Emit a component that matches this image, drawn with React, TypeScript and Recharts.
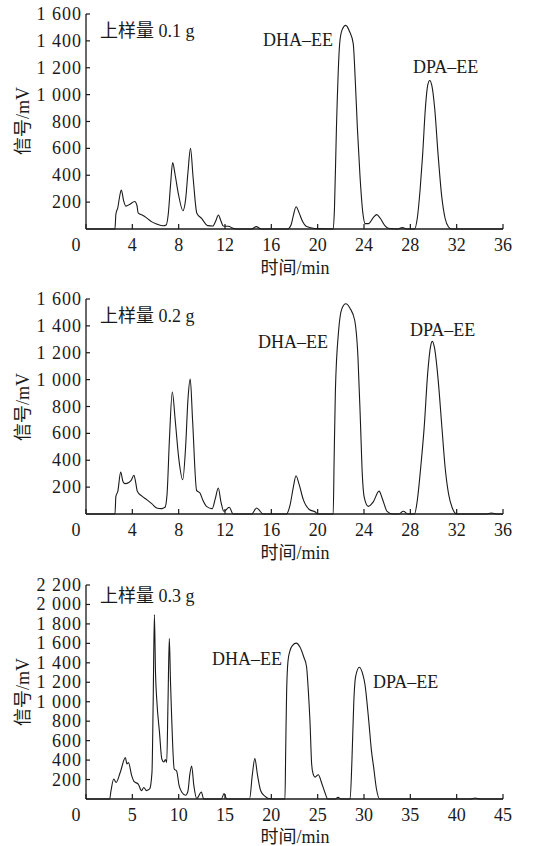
import { LineChart, Line, XAxis, YAxis } from "recharts";

// retention time (min) / detector signal (mV)
const time01 = [0, 2.5, 2.58, 2.75, 2.9, 3.05, 3.25, 3.45, 3.8, 4.2, 4.4, 4.5, 4.85, 5.2, 5.65, 6.1, 6.65, 6.92, 7.1, 7.3, 7.48, 7.7, 8.0, 8.37, 8.6, 8.8, 9.02, 9.25, 9.57, 9.98, 10.5, 10.95, 11.2, 11.43, 11.65, 11.85, 12.3, 12.7, 13.0, 14.3, 14.7, 15.1, 17.4, 17.7, 17.9, 18.14, 18.4, 18.7, 19.0, 19.5, 20.0, 21.34, 21.45, 21.62, 21.9, 22.1, 22.43, 22.75, 23.07, 23.25, 23.43, 23.65, 23.9, 24.1, 24.4, 24.8, 25.1, 25.4, 25.8, 26.1, 26.9, 27.3, 27.7, 28.36, 28.6, 28.85, 29.06, 29.3, 29.5, 29.67, 29.85, 30.1, 30.4, 30.7, 31.0, 31.3, 31.57, 36];
const signal01 = [0, 0, 110, 160, 240, 290, 210, 170, 185, 205, 175, 120, 104, 85, 55, 38, 24, 30, 110, 330, 494, 400, 250, 136, 220, 420, 600, 380, 117, 79, 25, 22, 60, 104, 60, 22, 20, 5, 0, 0, 18, 0, 0, 30, 100, 166, 120, 55, 20, 8, 3, 0, 150, 750, 1380, 1480, 1515, 1470, 1380, 1100, 750, 400, 120, 40, 40, 85, 107, 80, 25, 5, 0, 10, 0, 0, 80, 300, 550, 900, 1070, 1105, 1070, 900, 550, 250, 80, 15, 0, 0];

const time02 = [0, 2.5, 2.58, 2.75, 2.99, 3.2, 3.37, 3.7, 3.9, 4.14, 4.3, 4.43, 4.8, 5.24, 5.7, 6.1, 6.5, 6.82, 7.0, 7.2, 7.45, 7.7, 8.0, 8.35, 8.6, 8.8, 9.0, 9.2, 9.55, 9.84, 10.1, 10.4, 10.9, 11.15, 11.42, 11.65, 11.9, 12.37, 12.7, 14.3, 14.73, 15.3, 17.3, 17.6, 17.9, 18.13, 18.4, 18.76, 19.3, 19.8, 20.0, 21.34, 21.42, 21.53, 21.81, 22.1, 22.43, 22.8, 23.2, 23.48, 23.7, 23.85, 24.03, 24.37, 24.8, 25.3, 25.6, 25.99, 26.5, 27.0, 27.4, 27.8, 28.36, 28.6, 28.9, 29.2, 29.5, 29.75, 29.9, 30.1, 30.4, 30.73, 31.0, 31.3, 31.6, 32.0, 34.5, 35.0, 35.5, 36];
const signal02 = [0, 0, 131, 170, 312, 240, 226, 235, 250, 288, 230, 169, 135, 107, 75, 45, 40, 50, 150, 550, 908, 700, 420, 255, 500, 850, 1004, 700, 176, 156, 100, 57, 40, 110, 193, 90, 20, 50, 0, 0, 45, 0, 0, 60, 200, 285, 220, 107, 32, 15, 0, 0, 400, 916, 1365, 1530, 1565, 1530, 1440, 1165, 667, 300, 120, 57, 90, 170, 110, 20, 0, 0, 20, 0, 0, 100, 350, 650, 1050, 1250, 1285, 1230, 1000, 640, 350, 150, 50, 0, 0, 8, 0, 0];

const time03 = [0, 2.55, 2.7, 2.99, 3.25, 3.7, 4.25, 4.42, 4.58, 4.93, 5.2, 5.64, 5.99, 6.24, 6.52, 6.87, 7.12, 7.25, 7.38, 7.5, 7.65, 7.93, 8.18, 8.4, 8.57, 8.71, 8.85, 8.99, 9.12, 9.24, 9.52, 9.77, 10.05, 10.34, 10.76, 11.0, 11.2, 11.4, 11.64, 11.95, 12.45, 12.7, 14.6, 14.9, 15.2, 17.65, 17.95, 18.22, 18.5, 18.85, 19.3, 19.7, 20.2, 21.47, 21.55, 21.65, 21.8, 22.0, 22.3, 22.68, 23.1, 23.5, 23.8, 24.0, 24.17, 24.35, 24.5, 24.71, 25.07, 25.43, 25.8, 26.08, 26.9, 27.2, 27.5, 28.5, 28.7, 28.9, 29.1, 29.5, 29.9, 30.1, 30.5, 30.8, 31.05, 31.35, 31.7, 41.5, 42.0, 42.5, 45];
const signal03 = [0, 0, 86, 205, 170, 275, 425, 360, 375, 240, 178, 154, 86, 118, 86, 103, 274, 1000, 1895, 1300, 1000, 685, 411, 380, 405, 377, 1000, 1652, 1200, 850, 308, 290, 137, 69, 38, 80, 250, 340, 137, 5, 72, 0, 0, 55, 0, 0, 250, 415, 250, 85, 30, 5, 0, 0, 500, 1100, 1420, 1520, 1580, 1602, 1560, 1460, 1360, 1100, 800, 360, 260, 225, 250, 165, 62, 0, 0, 17, 0, 0, 400, 1000, 1260, 1354, 1270, 1180, 816, 500, 320, 100, 0, 0, 10, 0, 0];

const xTicks36 = [0, 4, 8, 12, 16, 20, 24, 28, 32, 36];
const xTicks45 = [0, 5, 10, 15, 20, 25, 30, 35, 40, 45];
const yTicks1600 = [200, 400, 600, 800, 1000, 1200, 1400, 1600];
const yTicks2200 = [200, 400, 600, 800, 1000, 1200, 1400, 1600, 1800, 2000, 2200];

const sampleLabels = ["上样量 0.1 g", "上样量 0.2 g", "上样量 0.3 g"];
const peakNames = ["DHA–EE", "DPA–EE"];

const FONT = "'Liberation Serif', 'Noto Sans CJK SC', serif";
const INK = "#1a1a1a";

const fmt = (v: number) =>
  v >= 1000 ? `${Math.floor(v / 1000)} ${String(v % 1000).padStart(3, "0")}` : String(v);

const XTick = (props: any) => {
  const { x, y, payload } = props;
  const v = payload.value;
  return (
    <g>
      <line x1={x} x2={x} y1={y} y2={y - 5} stroke={INK} strokeWidth={1.2} />
      <text
        x={v === 0 ? x - 10 : x}
        y={y + 22}
        textAnchor="middle"
        fontFamily={FONT}
        fontSize={18}
        fill={INK}
      >
        {v}
      </text>
    </g>
  );
};

const YTick = (props: any) => {
  const { x, y, payload } = props;
  return (
    <g>
      <line x1={x} x2={x + 4} y1={y} y2={y} stroke={INK} strokeWidth={1.2} />
      <text
        x={x - 4}
        y={y + 6}
        textAnchor="end"
        fontFamily={FONT}
        fontSize={18}
        letterSpacing={1}
        fill={INK}
      >
        {fmt(payload.value)}
      </text>
    </g>
  );
};

function Chromatogram({ times, signals, top, height, plotTop, xAxisH, xMax, xTicks, yMax, yTicks }: any) {
  const data = times.map((t: number, i: number) => ({ t, v: signals[i] }));
  return (
    <div style={{ position: "absolute", left: 0, top }}>
      <LineChart width={540} height={height} data={data} margin={{ top: plotTop, right: 37, left: 0, bottom: 0 }}>
        <XAxis
          dataKey="t"
          type="number"
          domain={[0, xMax]}
          ticks={xTicks}
          interval={0}
          height={xAxisH}
          tickSize={0}
          tickMargin={0}
          tickLine={false}
          tick={<XTick />}
          axisLine={{ stroke: INK, strokeWidth: 1.3 }}
        />
        <YAxis
          type="number"
          domain={[0, yMax]}
          ticks={yTicks}
          interval={0}
          width={86}
          tickSize={0}
          tickMargin={0}
          tickLine={false}
          tick={<YTick />}
          axisLine={{ stroke: INK, strokeWidth: 1.3 }}
        />
        <Line
          type="monotone"
          dataKey="v"
          stroke={INK}
          strokeWidth={1.1}
          dot={false}
          isAnimationActive={false}
        />
      </LineChart>
    </div>
  );
}

export default function App() {
  const txt = { fontFamily: FONT, fontSize: 18, fill: INK } as const;
  return (
    <div style={{ position: "absolute", left: 0, top: 0, width: 540, height: 846, background: "#fff" }}>
      <Chromatogram times={time01} signals={signal01} top={0} height={280} plotTop={14} xAxisH={51} xMax={36} xTicks={xTicks36} yMax={1600} yTicks={yTicks1600} />
      <Chromatogram times={time02} signals={signal02} top={280} height={280} plotTop={19} xAxisH={46} xMax={36} xTicks={xTicks36} yMax={1600} yTicks={yTicks1600} />
      <Chromatogram times={time03} signals={signal03} top={570} height={276} plotTop={15} xAxisH={47} xMax={45} xTicks={xTicks45} yMax={2200} yTicks={yTicks2200} />
      <svg width={540} height={846} style={{ position: "absolute", left: 0, top: 0, pointerEvents: "none" }}>
        {/* panel 1 */}
        <text x={100} y={37} {...txt}>{sampleLabels[0]}</text>
        <text x={263} y={46} {...txt}>{peakNames[0]}</text>
        <text x={413} y={73} {...txt}>{peakNames[1]}</text>
        <text x={29} y={121} transform="rotate(-90 29 121)" textAnchor="middle" {...txt}>信号/mV</text>
        <text x={295} y={274} textAnchor="middle" {...txt}>时间/min</text>
        {/* panel 2 */}
        <text x={100} y={322} {...txt}>{sampleLabels[1]}</text>
        <text x={258} y={348} {...txt}>{peakNames[0]}</text>
        <text x={410} y={336} {...txt}>{peakNames[1]}</text>
        <text x={29} y={407} transform="rotate(-90 29 407)" textAnchor="middle" {...txt}>信号/mV</text>
        <text x={295} y={559} textAnchor="middle" {...txt}>时间/min</text>
        {/* panel 3 */}
        <text x={100} y={602} {...txt}>{sampleLabels[2]}</text>
        <text x={212} y={665} {...txt}>{peakNames[0]}</text>
        <text x={373} y={688} {...txt}>{peakNames[1]}</text>
        <text x={29} y={692} transform="rotate(-90 29 692)" textAnchor="middle" {...txt}>信号/mV</text>
        <text x={295} y={843} textAnchor="middle" {...txt}>时间/min</text>
      </svg>
    </div>
  );
}
